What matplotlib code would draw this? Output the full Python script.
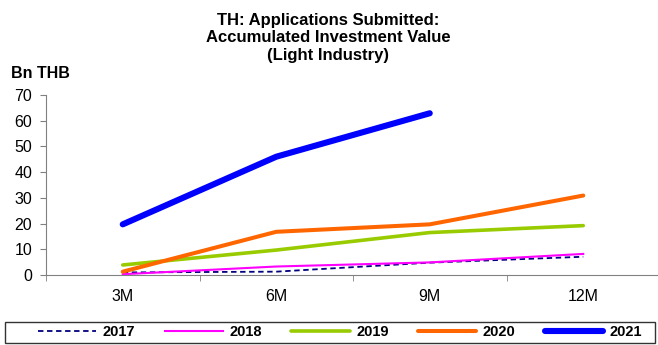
import numpy as np
import matplotlib
matplotlib.use("Agg")
import matplotlib.pyplot as plt
from matplotlib.patches import Rectangle

plt.rcParams["font.family"] = ["Liberation Sans", "DejaVu Sans"]

# Valores acumulados (miles de millones de THB)
periodos = ["3M", "6M", "9M", "12M"]
y2017 = [1.0, 1.3, 4.8, 7.1]
y2018 = [0.3, 3.3, 4.9, 8.2]
y2019 = [3.9, 9.7, 16.5, 19.2]
y2020 = [1.3, 16.8, 19.7, 30.9]
y2021 = [19.7, 46.0, 62.9]

W, H = 658, 345
fig = plt.figure(figsize=(W / 100, H / 100), dpi=100)
ax = fig.add_axes([46 / W, 70 / H, 614 / W, 180 / H])

x = np.arange(len(periodos))
ax.plot(x, y2017, color="#000080", lw=1.3, ls=(0, (3, 2)), label="2017")
ax.plot(x, y2018, color="#FF00FF", lw=1.5, label="2018")
ax.plot(x, y2019, color="#99CC00", lw=2.6, solid_capstyle="round", label="2019")
ax.plot(x, y2020, color="#FF6600", lw=2.9, solid_capstyle="round", label="2020")
ax.plot(x[:len(y2021)], y2021, color="#0000FF", lw=4.4, solid_capstyle="round", label="2021")

ax.set_xlim(-0.5, 3.5)
ax.set_ylim(0, 70)
ax.set_yticks(range(0, 71, 10))
ax.set_xticks(x)
ax.set_xticklabels(periodos)
ax.set_xticks(np.arange(-0.5, 3.6, 1), minor=True)
ax.tick_params(axis="x", which="major", length=0, pad=10, labelsize=11.5)
ax.tick_params(axis="x", which="minor", length=4, direction="out", color="#808080")
ax.tick_params(axis="y", length=4, color="#808080", labelsize=11.5, pad=6)

for s in ["top", "right"]:
    ax.spines[s].set_visible(False)
for s in ["left", "bottom"]:
    ax.spines[s].set_color("#808080")

fig.text(328 / W, 1 - 13 / H,
         "TH: Applications Submitted:\nAccumulated Investment Value\n(Light Industry)",
         ha="center", va="top", fontsize=12, fontweight="bold", linespacing=1.2)
fig.text(11 / W, 1 - 73 / H, "Bn THB", ha="left", va="center",
         fontsize=11.5, fontweight="bold")

# leyenda sin marco propio, con un rectángulo a lo ancho de la figura
leg = fig.legend(loc="center", bbox_to_anchor=(340 / W, 1 - 332.5 / H),
                 ncol=5, frameon=False,
                 prop={"weight": "bold", "size": 10.5},
                 handlelength=4.0, handletextpad=0.45, columnspacing=2.0)
fig.patches.append(Rectangle((5 / W, 2 / H), 650 / W, 21 / H,
                             transform=fig.transFigure, fill=False,
                             edgecolor="#333333", lw=1.0))

fig.savefig("out.png", dpi=100)
